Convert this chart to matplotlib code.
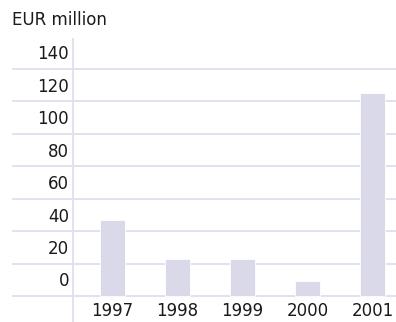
import matplotlib
matplotlib.use('Agg')
import matplotlib.pyplot as plt

# Data
years = ['1997', '1998', '1999', '2000', '2001']
values = [47, 23, 23, 9, 125]
y_ticks = [0, 20, 40, 60, 80, 100, 120, 140]
unit_label = 'EUR million'

bar_color = '#d9d9ea'
grid_color = '#e1e1ef'
text_color = '#1a1a1a'

plt.rcParams['font.family'] = ['DejaVu Sans']

fig = plt.figure(figsize=(3.96, 3.22), dpi=100)
ax = fig.add_axes([12 / 396, 0, 384 / 396, 284 / 322])

x = list(range(len(years)))
ax.bar(x, values, width=0.39, color=bar_color, edgecolor='white', linewidth=0.6, zorder=3)

# Horizontal grid lines, full width
for t in y_ticks:
    ax.axhline(t, color=grid_color, linewidth=1.4, zorder=1)
    ax.annotate(str(t), (-0.6, t), xytext=(-3, 4), textcoords='offset points',
                ha='right', va='bottom', fontsize=12, color=text_color)

# Vertical axis line
ax.axvline(-0.6, color=grid_color, linewidth=1.4, zorder=2)

for i, yr in enumerate(years):
    ax.annotate(yr, (i, 0), xytext=(0, -11), textcoords='offset points',
                ha='center', va='center', fontsize=12, color=text_color)

ax.set_xlim(-1.54, 4.36)
ax.set_ylim(-16, 159)
ax.axis('off')

fig.text(12 / 396, 1 - 25 / 322, unit_label, fontsize=12, color=text_color,
         ha='left', va='baseline')

fig.savefig('out.png', dpi=100)
